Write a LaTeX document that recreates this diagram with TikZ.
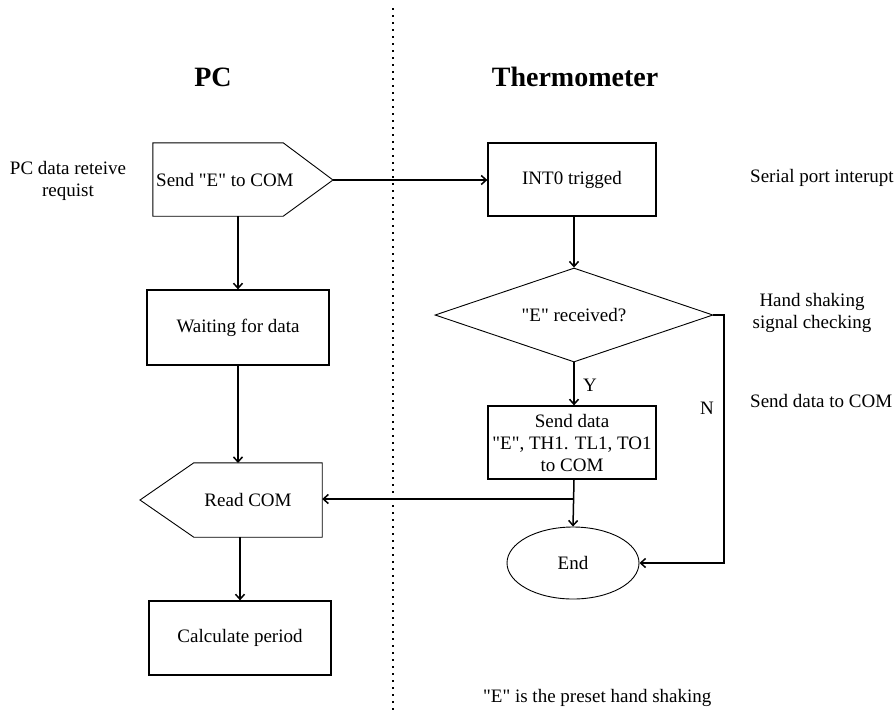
\documentclass[tikz,border=0pt]{standalone}
\usepackage{fontspec}
\setmainfont{Liberation Serif}[Ligatures=TeXOff]
\usetikzlibrary{arrows.meta,shapes.geometric,calc}
\tikzset{
  txt/.style={font=\fontsize{19}{22}\selectfont, inner sep=0pt, align=center},
  ttl/.style={font=\fontsize{28}{32}\selectfont\bfseries, inner sep=0pt},
  boxnode/.style={draw, line width=1.3pt, minimum width=#1, inner sep=0pt, txt},
  thin/.style={line width=0.9pt},
  arr/.style={line width=1.5pt, -{Straight Barb[length=5pt,width=9pt]}},
  conn/.style={line width=1.5pt},
}
\begin{document}
\begin{tikzpicture}[x=1pt,y=-1pt]
\useasboundingbox (0,0) rectangle (896,713);
% divider
\coordinate (dtop) at (393,8);
\coordinate (dbot) at (393,713);
\draw[line width=1.6pt, dash pattern=on 1.6pt off 5.4pt] (dtop) -- (dbot);
% titles
\node[ttl] (tpc) at (213,77) {PC};
\node[ttl] (tth) at (575,77) {Thermometer};
% side notes
\node[txt] (n1) at (68,181) {PC data reteive\\requist};
\node[txt, anchor=west] (n2) at (750,178) {Serial port interupt};
\node[txt] (n3) at (812,313) {Hand shaking\\signal checking};
\node[txt, anchor=west] (n4) at (750,401) {Send data to COM};
\node[txt, anchor=west] (n5) at (483,698) {"E" is the preset hand shaking};
% PC side
\node[minimum width=130pt, minimum height=73pt, inner sep=0pt] (sende) at (218,179.5) {};
\coordinate (sendtip) at (333,180);
\draw[thin] (sende.north west) -- (sende.north east) -- (sendtip) -- (sende.south east) -- (sende.south west) -- cycle;
\node[txt, anchor=west] (sendetxt) at (156,180) {Send "E" to COM};
\node[boxnode=182pt, minimum height=75pt] (wait) at (238,327.5) {Waiting for data};
\node[minimum width=128pt, minimum height=74pt, inner sep=0pt] (readc) at (258,500) {};
\coordinate (readtip) at (140,500);
\draw[thin] (readc.north east) -- (readc.north west) -- (readtip) -- (readc.south west) -- (readc.south east) -- cycle;
\node[txt] (readtxt) at (248,500) {Read COM};
\node[boxnode=182pt, minimum height=74pt] (calc) at (240,638) {Calculate period};
% Thermometer side
\node[boxnode=168pt, minimum height=73pt] (int0) at (572,179.5) {INT0 trigged};
\node[diamond, draw, thin, aspect=3, minimum width=278pt, minimum height=94pt, inner sep=0pt, txt] (recv) at (574,315) {"E" received?};
\node[boxnode=168pt, minimum height=73pt] (sendd) at (572,442.5) {Send data\\"E", TH1. TL1, TO1\\to COM};
\node[ellipse, draw, thin, minimum width=132pt, minimum height=72pt, inner sep=0pt, txt] (endn) at (573,563) {End};
\node[txt] (ylab) at (590,385) {Y};
\node[txt] (nlab) at (707,408) {N};
% connectors
\draw[arr] (sendtip) -- (int0.west |- sendtip);
\draw[arr] (int0.south -| recv.north) -- (recv.north);
\draw[arr] (recv.south) -- (recv.south |- sendd.north);
\coordinate (ncorner1) at (724,315);
\coordinate (ncorner2) at (724,563);
\draw[arr] (recv.east) -- (ncorner1) -- (ncorner2) -- (endn.east);
\draw[arr] (recv.south |- sendd.south) -- (endn.north);
\coordinate (junc) at (574,499);
\draw[arr] (junc) -- (readc.east |- junc);
\draw[arr] (sende.south -| wait.north) -- (wait.north);
\coordinate (rtop) at (240,463);
\draw[arr] (wait.south) -- (wait.south |- rtop);
\draw[arr] (rtop |- readc.south) -- (rtop |- calc.north);
\end{tikzpicture}
\end{document}
